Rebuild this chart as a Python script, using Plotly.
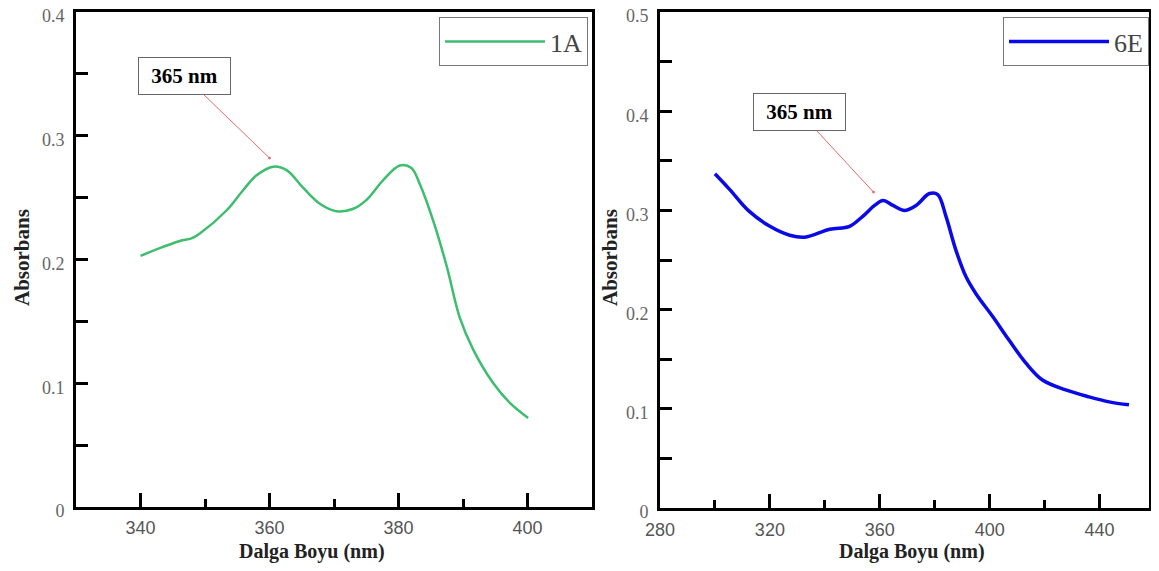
import plotly.graph_objects as go

# 1A spectrum (left panel)
wl_1a = [340, 343.4, 346.1, 347.9, 349.2, 353.4, 355.9, 358, 360.6, 362.7, 365.2, 367.8,
         370.4, 373, 375, 377.6, 380.2, 382, 383.3, 385.4, 387.5, 389.5, 391.6, 394.7,
         397.3, 400.1]
abs_1a = [0.203, 0.210, 0.215, 0.217, 0.221, 0.240, 0.256, 0.268, 0.275, 0.272, 0.258, 0.245,
          0.239, 0.241, 0.248, 0.264, 0.276, 0.274, 0.261, 0.231, 0.194, 0.153, 0.127, 0.100,
          0.084, 0.072]

# 6E spectrum (right panel)
wl_6e = [300, 305.4, 312.1, 320, 327.2, 332.7, 341.8, 349, 353.8, 358.1, 361.2, 364.8,
         369, 373.2, 378.1, 381.1, 384.1, 387.7, 391.4, 395, 401.1, 407.1, 413.2, 419.2,
         427.7, 436.2, 443.5, 450.7]
abs_6e = [0.337, 0.321, 0.300, 0.284, 0.275, 0.273, 0.281, 0.284, 0.294, 0.305, 0.310, 0.305,
          0.300, 0.305, 0.317, 0.316, 0.294, 0.260, 0.233, 0.216, 0.193, 0.169, 0.146, 0.129,
          0.119, 0.112, 0.107, 0.104]

OFF = 8  # default page body margin
W, H = 1159 - OFF, 571 - OFF
SERIF = "Liberation Serif"
SANS = "Liberation Sans"

fig = go.Figure()
fig.add_trace(go.Scatter(x=wl_1a, y=abs_1a, mode="lines", name="1A",
                         line=dict(color="#3dbd6e", width=2.5, shape="spline"),
                         xaxis="x", yaxis="y", legend="legend"))
fig.add_trace(go.Scatter(x=wl_6e, y=abs_6e, mode="lines", name="6E",
                         line=dict(color="#0a0ae6", width=3.5, shape="spline"),
                         xaxis="x2", yaxis="y2", legend="legend2"))

def px_x(p):
    return (p - OFF) / W

def px_y(p):
    return (H - (p - OFF)) / H

common_ax = dict(showline=True, linecolor="black", linewidth=3, mirror=True,
                 showgrid=False, zeroline=False, ticks="inside", tickcolor="black",
                 tickwidth=2.5, automargin=False, ticklabeloverflow="allow")

xt_font = dict(family=SANS, size=18, color="#555")
yt_font = dict(family=SERIF, size=18, color="#666")

fig.update_layout(
    width=W, height=H,
    margin=dict(l=0, r=0, t=0, b=0, autoexpand=False),
    paper_bgcolor="white", plot_bgcolor="white",
    xaxis=dict(domain=[px_x(76), px_x(592)], range=[330, 410], tick0=340, dtick=20,
               ticklen=14, tickfont=xt_font, anchor="y", ticklabelstandoff=2,
               minor=dict(dtick=10, ticks="inside", ticklen=8, tickwidth=2.5, tickcolor="black"),
               **common_ax),
    yaxis=dict(domain=[px_y(507), px_y(12)], range=[0, 0.4], dtick=0.1, ticklen=12,
               tickfont=yt_font, anchor="x", ticklabelstandoff=5, ticklabelshift=4,
               minor=dict(dtick=0.05, ticks="inside", ticklen=12, tickwidth=2.5, tickcolor="black"),
               **common_ax),
    xaxis2=dict(domain=[px_x(660), px_x(1149)], range=[280, 458], tick0=280, dtick=40,
                ticklen=14, tickfont=xt_font, anchor="y2", ticklabelstandoff=3,
                minor=dict(dtick=20, ticks="inside", ticklen=8, tickwidth=2.5, tickcolor="black"),
                **common_ax),
    yaxis2=dict(domain=[px_y(508), px_y(12)], range=[0, 0.5], dtick=0.1, ticklen=12,
                tickfont=yt_font, anchor="x2", ticklabelstandoff=5, ticklabelshift=4,
                minor=dict(dtick=0.05, ticks="inside", ticklen=12, tickwidth=2.5, tickcolor="black"),
                **common_ax),
    legend=dict(x=px_x(588), y=px_y(17), xanchor="right", yanchor="top",
                bordercolor="#777", borderwidth=1, bgcolor="white",
                font=dict(family=SERIF, size=26, color="#444"), itemwidth=100),
    legend2=dict(x=px_x(1149), y=px_y(17), xanchor="right", yanchor="top",
                 bordercolor="#777", borderwidth=1, bgcolor="white",
                 font=dict(family=SERIF, size=26, color="#444"), itemwidth=100),
    showlegend=True,
)

title_font = dict(family=SERIF, size=20, color="#222")
ann = [
    dict(text="<b>Dalga Boyu (nm)</b>", x=px_x(312), y=px_y(551), xref="paper", yref="paper",
         showarrow=False, font=title_font, xanchor="center", yanchor="middle"),
    dict(text="<b>Dalga Boyu (nm)</b>", x=px_x(912), y=px_y(551), xref="paper", yref="paper",
         showarrow=False, font=title_font, xanchor="center", yanchor="middle"),
    dict(text="<b>Absorbans</b>", x=px_x(22), y=px_y(258), xref="paper", yref="paper",
         showarrow=False, font=dict(family=SERIF, size=21, color="#222"), textangle=-90,
         xanchor="center", yanchor="middle"),
    dict(text="<b>Absorbans</b>", x=px_x(610), y=px_y(258), xref="paper", yref="paper",
         showarrow=False, font=dict(family=SERIF, size=21, color="#222"), textangle=-90,
         xanchor="center", yanchor="middle"),
]
peak_box = dict(showarrow=True, arrowhead=6, arrowsize=0.7, arrowwidth=1,
                arrowcolor="#e26a6a", standoff=0, bgcolor="white", bordercolor="#666",
                borderwidth=1, width=89, height=34, borderpad=1,
                font=dict(family=SERIF, size=21, color="black"))
ann.append(dict(text="<b>365 nm</b>", x=360, y=0.282, xref="x", yref="y",
                ax=-85, ay=-82, **peak_box))
ann.append(dict(text="<b>365 nm</b>", x=357.7, y=0.3185, xref="x2", yref="y2",
                ax=-74, ay=-80, **peak_box))
fig.update_layout(annotations=ann)

fig.write_html("out.html")
